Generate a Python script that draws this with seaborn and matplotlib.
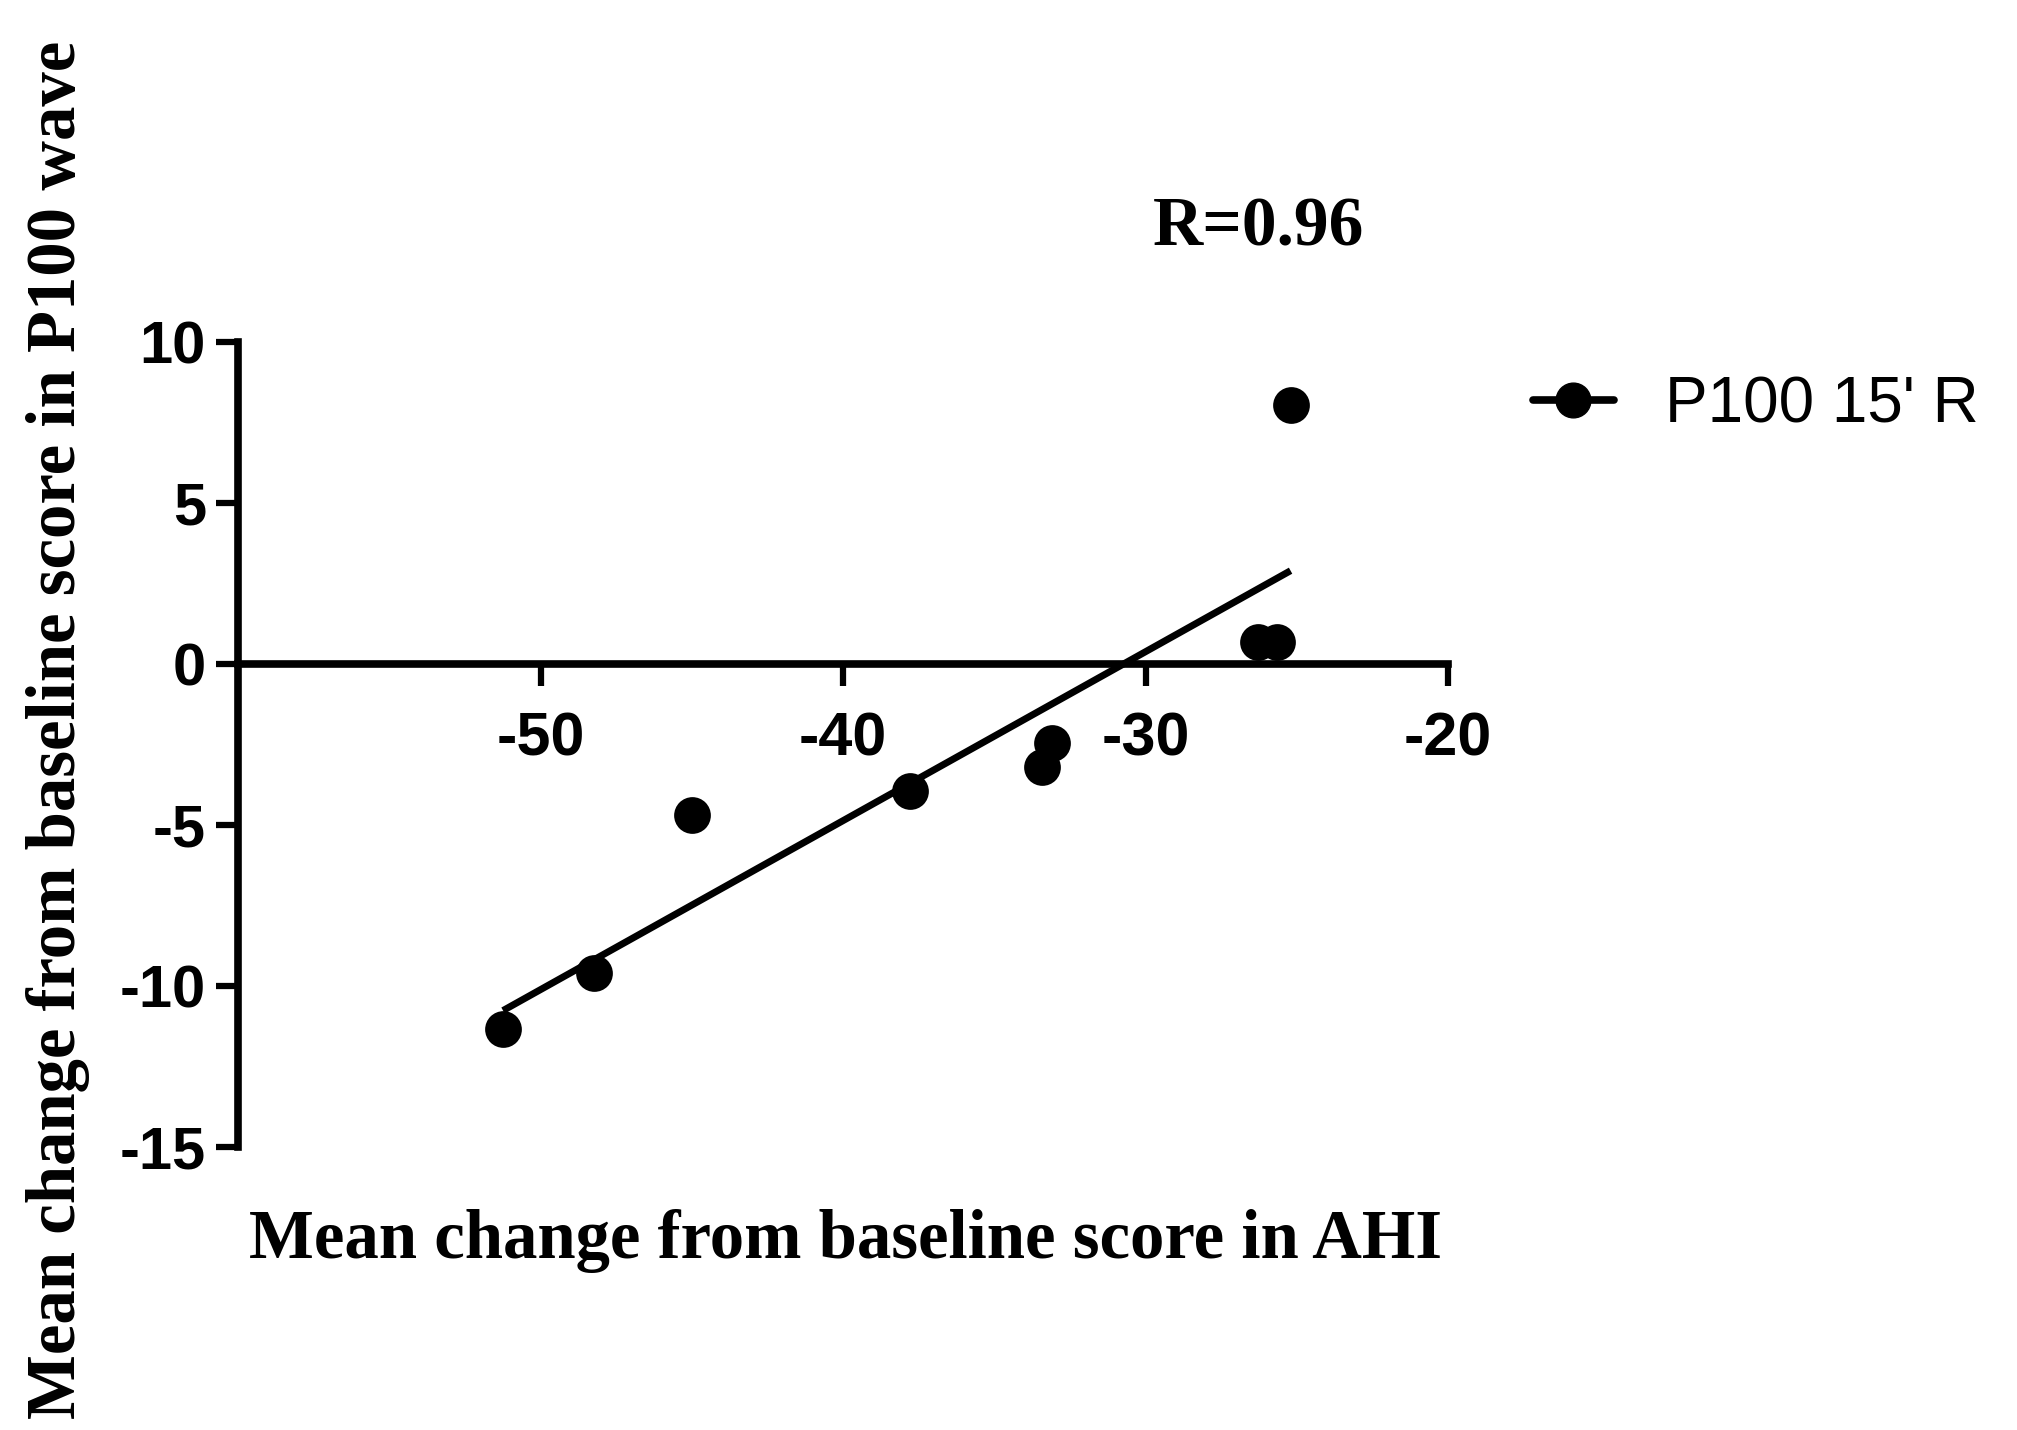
import matplotlib
matplotlib.use("Agg")
import matplotlib.pyplot as plt
from matplotlib.lines import Line2D
import seaborn as sns
import pandas as pd

# Data
ahi_change = [-51.24, -48.23, -45.0, -37.8, -33.41, -33.08, -26.3, -25.67, -25.21]
p100_change = [-11.33, -9.6, -4.7, -3.95, -3.2, -2.46, 0.67, 0.67, 8.03]
series_name = "P100 15' R"
x_ticks = [-50, -40, -30, -20]
y_ticks = [-15, -10, -5, 0, 5, 10]
r_text = "R=0.96"
x_label = "Mean change from baseline score in AHI"
y_label = "Mean change from baseline score in P100 wave"

df = pd.DataFrame({"ahi": ahi_change, "p100": p100_change})

sns.set_theme(style="white")
plt.rcParams["font.family"] = ["Liberation Sans", "DejaVu Sans"]
plt.rcParams["text.color"] = "black"
plt.rcParams["axes.labelcolor"] = "black"
plt.rcParams["xtick.color"] = "black"
plt.rcParams["ytick.color"] = "black"

fig = plt.figure(figsize=(20.17, 14.30), dpi=100)
ax = fig.add_axes([0.118, 0.1976, 0.600, 0.5634])

# spines first (setting spine position resets tick properties)
for s in ["top", "right"]:
    ax.spines[s].set_visible(False)
ax.spines["bottom"].set_position(("data", 0))
for s in ["left", "bottom"]:
    ax.spines[s].set_linewidth(5.5)
    ax.spines[s].set_color("black")

sns.regplot(data=df, x="ahi", y="p100", scatter=False, ci=None, ax=ax,
            line_kws=dict(color="black", lw=5.0, solid_capstyle="butt"))
sns.scatterplot(data=df, x="ahi", y="p100", ax=ax, color="black", s=700,
                edgecolor="black", linewidth=0, zorder=5)

ax.set_xlim(-60, -20)
ax.set_ylim(-15, 10)
ax.spines["left"].set_bounds(-15, 10)
ax.spines["bottom"].set_bounds(-60, -20)
ax.set_xticks(x_ticks)
ax.set_yticks(y_ticks)
ax.set_xticklabels([str(v) for v in x_ticks], fontsize=44, fontweight="bold",
                   family="Liberation Sans", color="black")
ax.set_yticklabels([str(v) for v in y_ticks], fontsize=43, fontweight="bold",
                   family="Liberation Sans", color="black")
ax.set_xlabel("")
ax.set_ylabel("")
ax.tick_params(axis="y", direction="out", length=16, width=4.5, pad=7,
               left=True, colors="black")
ax.tick_params(axis="x", direction="out", length=16, width=4.5, pad=18,
               bottom=True, colors="black")
ax.patch.set_alpha(0)

fig.text(0.419, 0.132, x_label, ha="center", va="center", fontsize=49.5,
         fontweight="bold", family="Liberation Serif", color="black")
fig.text(0.029, 0.4897, y_label, ha="center", va="center", rotation=90,
         fontsize=49.5, fontweight="bold", family="Liberation Serif",
         color="black")
fig.text(0.624, 0.840, r_text, ha="center", va="center", fontsize=50,
         fontweight="bold", family="Liberation Serif", color="black")

handle = Line2D([], [], color="black", lw=5.5, marker="o", markersize=25)
leg = fig.legend([handle], [series_name], loc="center left",
                 bbox_to_anchor=(0.760, 0.7167), frameon=False, fontsize=46,
                 handlelength=1.27, handletextpad=0.8, borderpad=0,
                 borderaxespad=0)
for t in leg.get_texts():
    t.set_color("black")

fig.savefig("out.png", dpi=100)
